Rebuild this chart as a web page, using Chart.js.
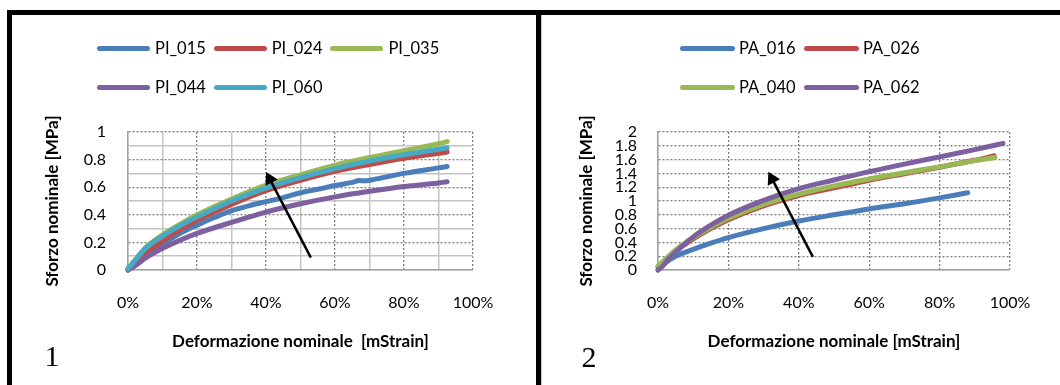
<!DOCTYPE html>
<html>
<head>
<meta charset="utf-8">
<script src="https://cdn.jsdelivr.net/npm/chart.js@4.4.1/dist/chart.umd.min.js"></script>
<style>
html,body{margin:0;padding:0;background:#fff;}
body{width:1060px;height:385px;position:relative;overflow:hidden;}
.bar{position:absolute;background:#000;}
.panel{position:absolute;}
.item{position:absolute;display:flex;align-items:center;height:20px;white-space:nowrap;font:16.5px Lato,'Open Sans',sans-serif;color:#000;}
.swatch{display:inline-block;height:5px;border-radius:3px;}
.panelno{position:absolute;width:30px;text-align:center;font:30px 'Liberation Serif','Times New Roman',serif;line-height:30px;color:#000;}
</style>
</head>
<body>
<div class="bar" style="left:7px;top:10px;width:1053px;height:5px;"></div>
<div class="bar" style="left:7px;top:10px;width:5px;height:375px;"></div>
<div class="bar" style="left:536px;top:10px;width:5px;height:375px;"></div>
<div class="bar" style="left:541px;top:15px;width:1px;height:370px;background:#c8c8c8;"></div>

<div class="panel" style="left:12px;top:15px;width:524px;height:370px;"><canvas id="c1" width="524" height="370"></canvas></div>
<div class="panel" style="left:542px;top:15px;width:518px;height:370px;"><canvas id="c2" width="518" height="370"></canvas></div>

<div id="leg1"></div>
<div id="leg2"></div>
<div class="panelno" style="left:37px;top:341px;">1</div>
<div class="panelno" style="left:574px;top:342px;">2</div>

<script>
// ---------------- DATA ----------------
// Panel 1
const seriesPI = ['PI_015', 'PI_024', 'PI_035', 'PI_044', 'PI_060'];
const strainPI = [0, 0.02, 0.05, 0.1, 0.15, 0.2, 0.3, 0.4, 0.5, 0.6, 0.7, 0.8, 0.9, 0.925];
const strainPI015 = [0, 0.02, 0.05, 0.1, 0.15, 0.2, 0.25, 0.3, 0.35, 0.4, 0.45, 0.5, 0.55, 0.6, 0.65, 0.67, 0.69, 0.72, 0.8, 0.9, 0.925];
const stressPI015 = [0, 0.045, 0.11, 0.19, 0.265, 0.325, 0.38, 0.43, 0.465, 0.495, 0.525, 0.56, 0.585, 0.612, 0.635, 0.648, 0.646, 0.66, 0.70, 0.74, 0.75];
const stressPI024 = [0, 0.05, 0.12, 0.21, 0.29, 0.36, 0.475, 0.575, 0.65, 0.715, 0.765, 0.81, 0.845, 0.855];
const stressPI035 = [0.01, 0.07, 0.16, 0.255, 0.33, 0.40, 0.515, 0.615, 0.69, 0.76, 0.815, 0.865, 0.915, 0.93];
const stressPI044 = [0, 0.03, 0.085, 0.157, 0.215, 0.265, 0.345, 0.42, 0.48, 0.53, 0.57, 0.605, 0.63, 0.64];
const stressPI060 = [0.01, 0.07, 0.155, 0.245, 0.32, 0.385, 0.50, 0.595, 0.67, 0.735, 0.79, 0.835, 0.875, 0.885];
const arrowPI = [[0.53, 0.09], [0.411, 0.659]];

// Panel 2
const seriesPA = ['PA_016', 'PA_026', 'PA_040', 'PA_062'];
const strainPA016 = [0, 0.02, 0.05, 0.1, 0.15, 0.2, 0.3, 0.4, 0.5, 0.6, 0.7, 0.8, 0.88];
const stressPA016 = [0, 0.1, 0.2, 0.3, 0.39, 0.47, 0.6, 0.71, 0.8, 0.885, 0.96, 1.045, 1.12];
const strainPA026 = [0, 0.02, 0.05, 0.1, 0.15, 0.2, 0.3, 0.4, 0.5, 0.6, 0.7, 0.8, 0.9, 0.955];
const stressPA026 = [0.04, 0.13, 0.27, 0.45, 0.6, 0.73, 0.93, 1.08, 1.19, 1.3, 1.395, 1.49, 1.59, 1.655];
const strainPA040 = [0, 0.02, 0.05, 0.1, 0.15, 0.2, 0.3, 0.4, 0.5, 0.6, 0.7, 0.8, 0.9, 0.957];
const stressPA040 = [0.06, 0.15, 0.29, 0.47, 0.62, 0.75, 0.95, 1.1, 1.22, 1.32, 1.41, 1.495, 1.585, 1.63];
const strainPA062 = [0, 0.01, 0.03, 0.05, 0.1, 0.15, 0.2, 0.3, 0.4, 0.5, 0.6, 0.7, 0.8, 0.9, 0.98];
const stressPA062 = [0, 0.04, 0.16, 0.26, 0.48, 0.65, 0.795, 1.01, 1.18, 1.305, 1.425, 1.535, 1.64, 1.745, 1.835];
const arrowPA = [[0.44, 0.19], [0.324, 1.32]];

// Tick labels and titles
const xTickLabels = ['0%', '20%', '40%', '60%', '80%', '100%'];
const yTickLabelsPI = ['0', '0.2', '0.4', '0.6', '0.8', '1'];
const yTickLabelsPA = ['0', '0.2', '0.4', '0.6', '0.8', '1', '1.2', '1.4', '1.6', '1.8', '2'];
const yTitle = 'Sforzo nominale [MPa]';
const xTitlePI = 'Deformazione nominale  [mStrain]';
const xTitlePA = 'Deformazione nominale [mStrain]';

// ---------------- STYLE ----------------
const FONT = "Lato, 'Open Sans', sans-serif";
const C = { blue: '#4A7EBB', red: '#BE4B48', green: '#98B954', purple: '#7D60A0', cyan: '#46AAC5' };
const colorsPI = [C.blue, C.red, C.green, C.purple, C.cyan];
const colorsPA = [C.blue, C.red, C.green, C.purple];
const DOT = '#7f7f7f', MINOR = '#c4c4c4', AXIS = '#a0a0a0';

function pts(xs, ys) { return xs.map((x, i) => ({ x: x, y: ys[i] })); }

function series(label, xs, ys, color, idx) {
  return {
    label: label, data: pts(xs, ys), borderColor: color, backgroundColor: color,
    borderWidth: 5, borderCapStyle: 'round', borderJoinStyle: 'round',
    pointRadius: 0, pointHoverRadius: 0, tension: 0.4, cubicInterpolationMode: 'monotone',
    fill: false, clip: false, order: -idx
  };
}
function arrow(p, rot) {
  return {
    label: '', data: p.map(a => ({ x: a[0], y: a[1] })), borderColor: '#000', backgroundColor: '#000',
    borderWidth: 2.5, borderCapStyle: 'butt', pointRadius: [0, 8], pointHoverRadius: 0,
    pointStyle: 'triangle', pointRotation: rot, pointBorderWidth: 0, tension: 0, fill: false,
    clip: false, order: -100
  };
}

function isMajor(ctx, step) {
  if (!ctx.tick) return true;
  return Math.round(ctx.tick.value * 10) % step === 0;
}

function options(cfg) {
  const tickFont = { family: FONT, size: 16 };
  const titleFont = { family: FONT, size: 17, weight: 'bold' };
  return {
    responsive: false, animation: false, devicePixelRatio: 1, events: [],
    layout: { padding: { left: 0, top: cfg.padTop, right: cfg.padRight, bottom: 0 } },
    plugins: { legend: { display: false }, tooltip: { enabled: false } },
    scales: {
      x: {
        type: 'linear', min: 0, max: 1,
        ticks: {
          stepSize: cfg.xStep, autoSkip: false, maxRotation: 0, padding: 23, color: '#000', font: tickFont,
          callback: (v, i) => cfg.minor ? (i % 2 === 0 ? xTickLabels[i / 2] : '') : xTickLabels[i]
        },
        grid: {
          drawTicks: false,
          color: ctx => (cfg.minor && !isMajor(ctx, 2)) ? MINOR : DOT,
          lineWidth: ctx => (cfg.minor && !isMajor(ctx, 2)) ? 1.5 : 1.3
        },
        border: { display: true, color: AXIS, width: 1.5,
          dash: ctx => (cfg.minor && !isMajor(ctx, 2)) ? [] : [2, 2] },
        title: { display: true, text: cfg.xTitle, color: '#000', font: titleFont, padding: { top: 0, bottom: 33 } },
        afterFit: s => { s.height = cfg.xHeight; }
      },
      y: {
        type: 'linear', min: 0, max: cfg.yMax,
        ticks: {
          stepSize: cfg.yStep, autoSkip: false, padding: cfg.yTickPad, color: '#000', font: tickFont,
          callback: (v, i) => cfg.minor ? (i % 2 === 0 ? cfg.yLabels[i / 2] : '') : cfg.yLabels[i]
        },
        grid: {
          drawTicks: false,
          color: ctx => (cfg.minor && !isMajor(ctx, 2)) ? MINOR : DOT,
          lineWidth: ctx => (cfg.minor && !isMajor(ctx, 2)) ? 1.5 : 1.3
        },
        border: { display: true, color: AXIS, width: 1.5,
          dash: ctx => (cfg.minor && !isMajor(ctx, 2)) ? [] : [2, 2] },
        title: { display: true, text: yTitle, color: '#000', font: titleFont, padding: { top: cfg.yTitlePad, bottom: 4 } },
        afterFit: s => { s.width = cfg.yWidth; }
      }
    }
  };
}

// ---------------- CHART 1 ----------------
const dsPI = [
  series(seriesPI[0], strainPI015, stressPI015, colorsPI[0], 0),
  series(seriesPI[1], strainPI, stressPI024, colorsPI[1], 1),
  series(seriesPI[2], strainPI, stressPI035, colorsPI[2], 2),
  series(seriesPI[3], strainPI, stressPI044, colorsPI[3], 3),
  series(seriesPI[4], strainPI, stressPI060, colorsPI[4], 4),
  arrow(arrowPI, -27.6)
];
new Chart(document.getElementById('c1'), {
  type: 'line',
  data: { datasets: dsPI },
  options: options({ padTop: 117, padRight: 63, xHeight: 115, yWidth: 116, yTitlePad: 30, yTickPad: 22,
    xStep: 0.1, yStep: 0.1, yMax: 1, minor: true, yLabels: yTickLabelsPI, xTitle: xTitlePI })
});

// ---------------- CHART 2 ----------------
const dsPA = [
  series(seriesPA[0], strainPA016, stressPA016, colorsPA[0], 0),
  series(seriesPA[1], strainPA026, stressPA026, colorsPA[1], 1),
  series(seriesPA[2], strainPA040, stressPA040, colorsPA[2], 2),
  series(seriesPA[3], strainPA062, stressPA062, colorsPA[3], 3),
  arrow(arrowPA, -27.5)
];
new Chart(document.getElementById('c2'), {
  type: 'line',
  data: { datasets: dsPA },
  options: options({ padTop: 117, padRight: 50, xHeight: 115, yWidth: 116, yTitlePad: 34, yTickPad: 21,
    xStep: 0.2, yStep: 0.2, yMax: 2, minor: false, yLabels: yTickLabelsPA, xTitle: xTitlePA })
});

// ---------------- HTML LEGENDS ----------------
function buildLegend(id, names, colors, layout) {
  const host = document.getElementById(id);
  names.forEach((n, i) => {
    const col = i % layout.perRow, row = Math.floor(i / layout.perRow);
    const item = document.createElement('div');
    item.className = 'item';
    item.style.left = (layout.x + col * layout.step) + 'px';
    item.style.top = (layout.rows[row] - 10) + 'px';
    const sw = document.createElement('span');
    sw.className = 'swatch';
    sw.style.width = layout.sw + 'px';
    sw.style.marginRight = layout.gap + 'px';
    sw.style.background = colors[i];
    const tx = document.createElement('span');
    tx.textContent = n;
    item.appendChild(sw); item.appendChild(tx);
    host.appendChild(item);
  });
}
buildLegend('leg1', seriesPI, colorsPI, { x: 97, step: 116.7, perRow: 3, rows: [48, 87], sw: 53, gap: 5 });
buildLegend('leg2', seriesPA, colorsPA, { x: 680, step: 124, perRow: 2, rows: [48, 87], sw: 55, gap: 4 });
</script>
</body>
</html>
